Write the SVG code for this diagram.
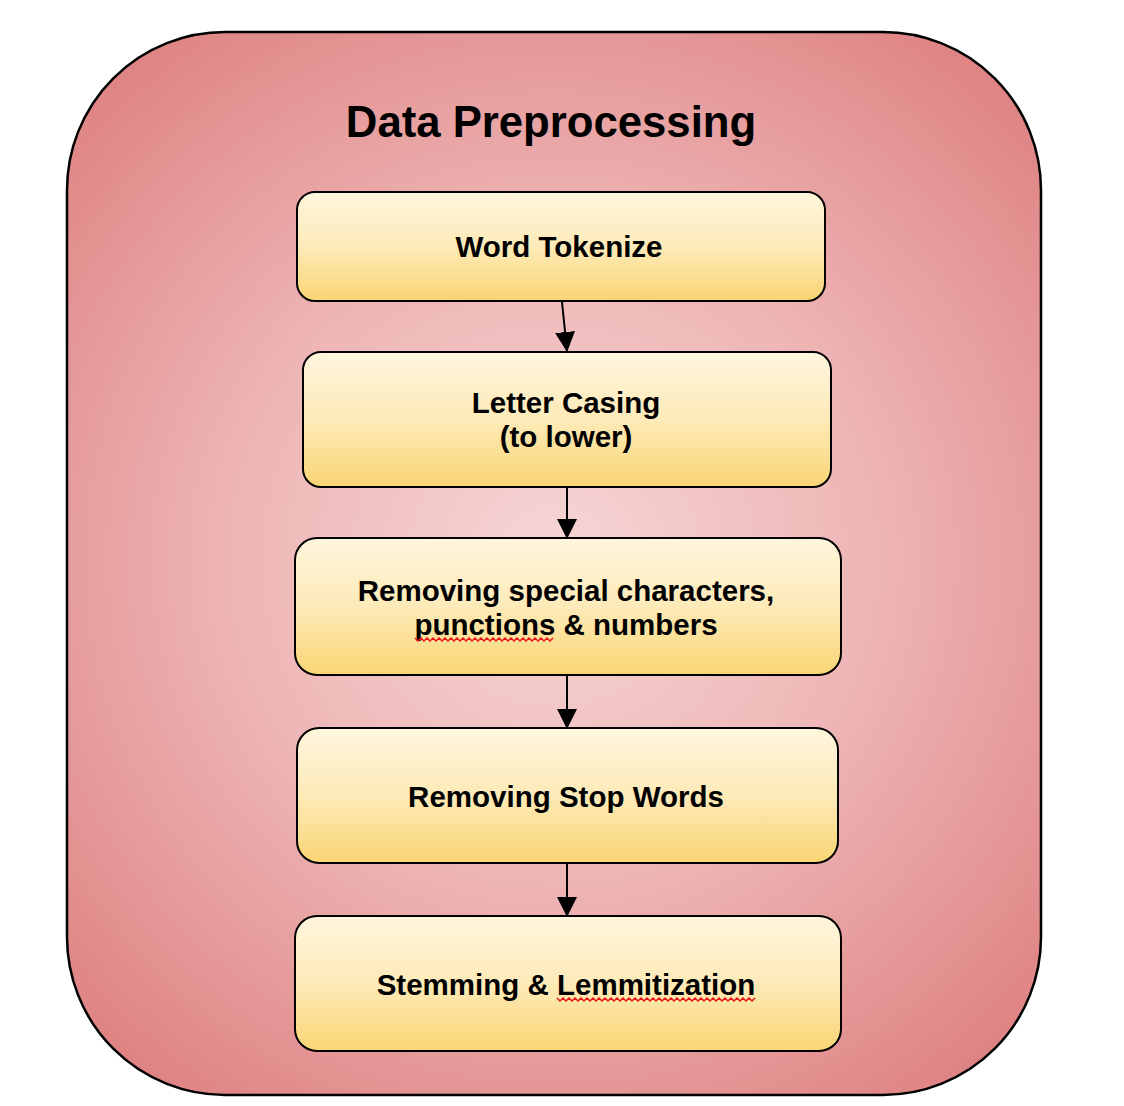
<svg xmlns="http://www.w3.org/2000/svg" width="1124" height="1106" viewBox="0 0 1124 1106">
  <defs>
    <radialGradient id="bg" gradientUnits="userSpaceOnUse" cx="554" cy="560" r="720">
      <stop offset="0" stop-color="#f6d6d6"/>
      <stop offset="0.45" stop-color="#eeb5b5"/>
      <stop offset="1" stop-color="#dc7a7a"/>
    </radialGradient>
    <linearGradient id="box" x1="0" y1="0" x2="0" y2="1">
      <stop offset="0" stop-color="#fff6de"/>
      <stop offset="0.5" stop-color="#fdeab8"/>
      <stop offset="1" stop-color="#f9d572"/>
    </linearGradient>
    <marker id="arr" markerWidth="20" markerHeight="20" refX="19" refY="10" orient="auto" markerUnits="userSpaceOnUse">
      <path d="M0,0 L20,10 L0,20 Z" fill="#000"/>
    </marker>
    <style>
      .node rect { fill: url(#box); stroke: #000; stroke-width: 2; }
      .lbl { font-family: "Liberation Sans", Arial, sans-serif; font-weight: bold; font-size: 29.5px; fill: #000; text-anchor: middle; }
      .title { font-family: "Liberation Sans", Arial, sans-serif; font-weight: bold; font-size: 43.7px; fill: #000; text-anchor: middle; }
      .conn line { stroke: #000; stroke-width: 2; marker-end: url(#arr); }
      .spell { fill: none; stroke: #e8141c; stroke-width: 1.5; }
    </style>
  </defs>

  <g id="container">
    <rect x="67" y="32" width="974" height="1063" rx="158" ry="158" fill="url(#bg)" stroke="#000" stroke-width="2.5"/>
    <text class="title" x="551" y="137">Data Preprocessing</text>
  </g>

  <g id="connectors" class="conn">
    <line x1="562" y1="302" x2="567" y2="351"/>
    <line x1="567" y1="488" x2="567" y2="538"/>
    <line x1="567" y1="676" x2="567" y2="728"/>
    <line x1="567" y1="864" x2="567" y2="916"/>
  </g>

  <g id="node-word-tokenize" class="node">
    <rect x="297" y="192" width="528" height="109" rx="18"/>
    <text class="lbl" x="559" y="257">Word Tokenize</text>
  </g>

  <g id="node-letter-casing" class="node">
    <rect x="303" y="352" width="528" height="135" rx="18"/>
    <text class="lbl" x="566" y="413">Letter Casing</text>
    <text class="lbl" x="566" y="447">(to lower)</text>
  </g>

  <g id="node-removing-special" class="node">
    <rect x="295" y="538" width="546" height="137" rx="22"/>
    <text class="lbl" x="566" y="601">Removing special characters,</text>
    <text class="lbl" x="566" y="635">punctions &amp; numbers</text>
    <path class="spell" d="M415,638 l3,3 l3,-3 l3,3 l3,-3 l3,3 l3,-3 l3,3 l3,-3 l3,3 l3,-3 l3,3 l3,-3 l3,3 l3,-3 l3,3 l3,-3 l3,3 l3,-3 l3,3 l3,-3 l3,3 l3,-3 l3,3 l3,-3 l3,3 l3,-3 l3,3 l3,-3 l3,3 l3,-3 l3,3 l3,-3 l3,3 l3,-3 l3,3 l3,-3 l3,3 l3,-3 l3,3 l3,-3 l3,3 l3,-3 l3,3 l3,-3 l3,3 l3,-3"/>
  </g>

  <g id="node-stop-words" class="node">
    <rect x="297" y="728" width="541" height="135" rx="22"/>
    <text class="lbl" x="566" y="807">Removing Stop Words</text>
  </g>

  <g id="node-stemming" class="node">
    <rect x="295" y="916" width="546" height="135" rx="22"/>
    <text class="lbl" x="566" y="995">Stemming &amp; Lemmitization</text>
    <path class="spell" d="M557,998 l3,3 l3,-3 l3,3 l3,-3 l3,3 l3,-3 l3,3 l3,-3 l3,3 l3,-3 l3,3 l3,-3 l3,3 l3,-3 l3,3 l3,-3 l3,3 l3,-3 l3,3 l3,-3 l3,3 l3,-3 l3,3 l3,-3 l3,3 l3,-3 l3,3 l3,-3 l3,3 l3,-3 l3,3 l3,-3 l3,3 l3,-3 l3,3 l3,-3 l3,3 l3,-3 l3,3 l3,-3 l3,3 l3,-3 l3,3 l3,-3 l3,3 l3,-3 l3,3 l3,-3 l3,3 l3,-3 l3,3 l3,-3 l3,3 l3,-3 l3,3 l3,-3 l3,3 l3,-3 l3,3 l3,-3 l3,3 l3,-3 l3,3 l3,-3 l3,3 l3,-3"/>
  </g>
</svg>
